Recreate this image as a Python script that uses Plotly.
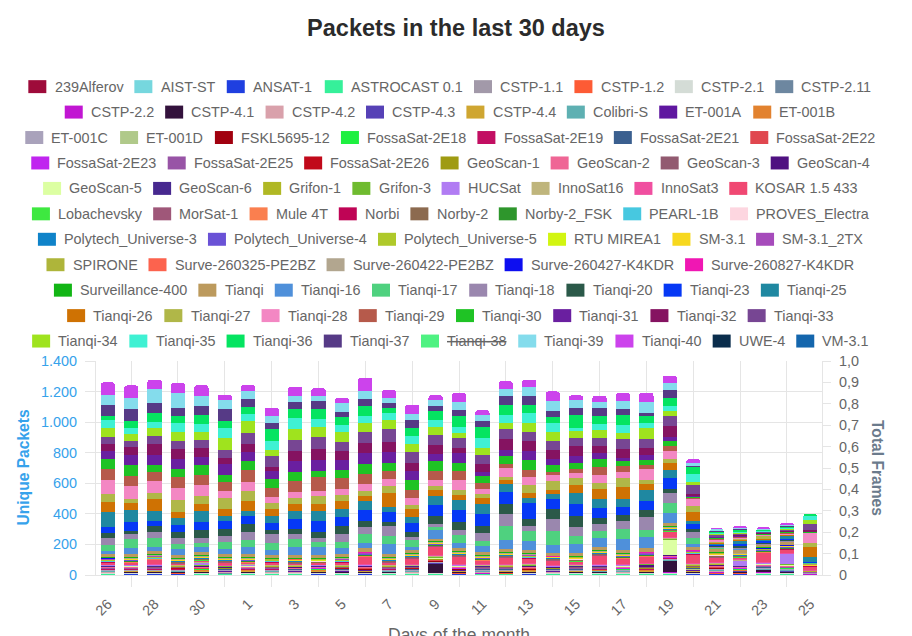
import plotly.graph_objects as go

# ─────────────────────────────────────────────
# Data

days = ["26", "27", "28", "29", "30", "31", "1", "2", "3", "4", "5", "6", "7", "8", "9",
        "10", "11", "12", "13", "14", "15", "16", "17", "18", "19", "20", "21", "22",
        "23", "24", "25"]

satellites = [
    "239Alferov", "AIST-ST", "ANSAT-1", "ASTROCAST 0.1", "CSTP-1.1", "CSTP-1.2", "CSTP-2.1",
    "CSTP-2.11", "CSTP-2.2", "CSTP-4.1", "CSTP-4.2", "CSTP-4.3", "CSTP-4.4", "Colibri-S",
    "ET-001A", "ET-001B", "ET-001C", "ET-001D", "FSKL5695-12", "FossaSat-2E18", "FossaSat-2E19",
    "FossaSat-2E21", "FossaSat-2E22", "FossaSat-2E23", "FossaSat-2E25", "FossaSat-2E26",
    "GeoScan-1", "GeoScan-2", "GeoScan-3", "GeoScan-4", "GeoScan-5", "GeoScan-6", "Grifon-1",
    "Grifon-3", "HUCSat", "InnoSat16", "InnoSat3", "KOSAR 1.5 433", "Lobachevsky", "MorSat-1",
    "Mule 4T", "Norbi", "Norby-2", "Norby-2_FSK", "PEARL-1B", "PROVES_Electra",
    "Polytech_Universe-3", "Polytech_Universe-4", "Polytech_Universe-5", "RTU MIREA1", "SM-3.1",
    "SM-3.1_2TX", "SPIRONE", "Surve-260325-PE2BZ", "Surve-260422-PE2BZ", "Surve-260427-K4KDR",
    "Surve-260827-K4KDR", "Surveillance-400", "Tianqi", "Tianqi-16", "Tianqi-17", "Tianqi-18",
    "Tianqi-20", "Tianqi-23", "Tianqi-25", "Tianqi-26", "Tianqi-27", "Tianqi-28", "Tianqi-29",
    "Tianqi-30", "Tianqi-31", "Tianqi-32", "Tianqi-33", "Tianqi-34", "Tianqi-35", "Tianqi-36",
    "Tianqi-37", "Tianqi-38", "Tianqi-39", "Tianqi-40", "UWE-4", "VM-3.1",
]

colors = [
    "#9e0b3a", "#76d7de", "#1f3fe0", "#36f09a", "#a299a9", "#fd5b35", "#d4dcd6",
    "#6d87a0", "#c116d2", "#33123c", "#d9a1ab", "#5641b6", "#cfa631", "#5eb0b2",
    "#5f17a0", "#e2822f", "#a9a2bb", "#b0c98a", "#a1000f", "#1ef040", "#c20e62",
    "#3a5f8f", "#e0474f", "#c025ef", "#9854a6", "#c1091a",
    "#9f9b12", "#ef6695", "#925a70", "#4f1181", "#dcffa2", "#47288f", "#b0b824",
    "#6fbb2f", "#b17cf3", "#bfb57c", "#f04fa0", "#f04872", "#3ee840", "#9f5779",
    "#fa7f4f", "#bf0455", "#8c6a4f", "#2e962c", "#47c8e0", "#fdd6e0",
    "#0f83c9", "#6a52d6", "#afc92a", "#d2f511", "#f7d81e",
    "#a64bbb", "#aeb53a", "#fc634e", "#b2a68f", "#0d0ef0",
    "#f017b3", "#12b515", "#bc9a5d", "#4f90da", "#4fd17f", "#9a87ae",
    "#2b5949", "#0638f5", "#1f88a1", "#cf7203", "#b0b748", "#f387c3", "#b65a4b",
    "#1fc325", "#6a1fa0", "#851361", "#774693", "#9fe31e", "#3ff1d3", "#05e461",
    "#563a86", "#4ff282", "#84dcec", "#cc43ec", "#0a2d4c", "#1466ad",
]

hidden = ["Tianqi-38"]

# unique packets per satellite and day
alferov = [3, 2, 3, 2, 2, 3, 1, 2, 3, 2, 2, 3, 2, 1, 2, 3, 2, 2, 3, 2, 2, 1, 3, 2, 2, 3, 2, 3, 2, 2, 1]
aist_st = [2, 3, 2, 2, 1, 2, 3, 2, 2, 3, 1, 2, 2, 3, 2, 1, 2, 3, 2, 2, 3, 2, 1, 2, 3, 2, 3, 2, 2, 3, 1]
ansat_1 = [1, 2, 2, 3, 2, 1, 2, 2, 1, 2, 3, 2, 1, 2, 2, 3, 2, 1, 2, 2, 1, 3, 2, 2, 1, 2, 2, 3, 2, 1, 1]
astrocast = [2, 1, 2, 1, 3, 2, 2, 1, 2, 2, 1, 2, 3, 2, 1, 2, 2, 2, 1, 3, 2, 2, 1, 2, 2, 1, 2, 2, 3, 2, 0]
cstp_1_1 = [3, 3, 2, 4, 3, 2, 3, 3, 2, 3, 4, 2, 3, 2, 3, 3, 2, 4, 3, 2, 3, 2, 3, 3, 2, 3, 4, 3, 2, 3, 1]
cstp_1_2 = [1, 2, 1, 2, 2, 1, 2, 1, 2, 1, 2, 2, 1, 2, 1, 2, 1, 2, 2, 1, 2, 1, 2, 1, 2, 2, 1, 2, 1, 2, 1]
cstp_2_1 = [2, 3, 2, 2, 3, 2, 2, 3, 2, 2, 2, 3, 2, 2, 3, 2, 2, 2, 3, 2, 2, 3, 2, 2, 2, 3, 2, 2, 3, 2, 1]
cstp_2_11 = [1, 0, 1, 1, 0, 1, 1, 0, 1, 1, 1, 0, 1, 1, 0, 1, 0, 1, 1, 0, 1, 1, 0, 1, 1, 1, 1, 0, 1, 1, 0]
cstp_2_2 = [2, 2, 3, 1, 2, 2, 3, 2, 1, 2, 2, 3, 2, 2, 1, 2, 3, 2, 2, 1, 2, 2, 3, 2, 2, 2, 3, 2, 2, 3, 1]
cstp_4_1 = [2, 3, 2, 2, 3, 2, 2, 3, 2, 3, 2, 2, 3, 2, 60, 3, 2, 2, 3, 2, 2, 3, 2, 5, 75, 3, 4, 3, 15, 4, 1]
cstp_4_2 = [3, 2, 2, 3, 2, 3, 2, 2, 3, 2, 2, 3, 2, 3, 2, 2, 3, 2, 2, 3, 2, 3, 2, 2, 3, 2, 3, 3, 2, 3, 1]
cstp_4_3 = [1, 2, 2, 1, 2, 1, 2, 2, 1, 2, 1, 2, 2, 1, 2, 2, 1, 2, 1, 2, 2, 1, 2, 2, 1, 2, 2, 2, 1, 2, 1]
cstp_4_4 = [3, 2, 3, 2, 3, 2, 3, 3, 2, 3, 2, 3, 2, 3, 2, 3, 3, 2, 3, 2, 3, 2, 3, 3, 2, 3, 3, 2, 3, 3, 1]
colibri_s = [2, 1, 2, 2, 1, 2, 2, 1, 2, 2, 1, 2, 2, 2, 1, 2, 2, 1, 2, 2, 1, 2, 2, 1, 2, 2, 2, 1, 2, 2, 1]
et_001a = [2, 2, 1, 2, 3, 2, 2, 1, 2, 2, 3, 2, 1, 2, 2, 3, 2, 2, 1, 2, 2, 3, 2, 2, 2, 2, 3, 2, 2, 2, 1]
et_001b = [1, 2, 2, 1, 2, 2, 1, 2, 2, 1, 2, 1, 2, 2, 1, 2, 2, 1, 2, 2, 1, 2, 2, 1, 2, 2, 2, 2, 1, 2, 0]
et_001c = [3, 3, 4, 3, 2, 3, 3, 4, 3, 3, 2, 3, 4, 3, 3, 2, 3, 3, 4, 3, 3, 2, 3, 3, 3, 3, 4, 3, 3, 4, 1]
et_001d = [1, 2, 1, 1, 2, 1, 2, 1, 1, 2, 1, 1, 2, 1, 2, 1, 1, 2, 1, 1, 2, 1, 2, 1, 1, 2, 2, 1, 2, 2, 1]
fskl5695 = [2, 1, 2, 2, 1, 2, 1, 2, 2, 1, 2, 2, 1, 2, 2, 1, 2, 1, 2, 2, 1, 2, 2, 1, 2, 2, 2, 1, 2, 2, 1]
fossa_2e18 = [1, 1, 0, 1, 1, 1, 0, 1, 1, 1, 0, 1, 1, 0, 1, 1, 1, 0, 1, 1, 1, 0, 1, 1, 1, 1, 1, 1, 0, 1, 0]
fossa_2e19 = [2, 2, 1, 2, 2, 2, 1, 2, 2, 1, 2, 2, 2, 1, 2, 2, 1, 2, 2, 2, 1, 2, 2, 1, 2, 2, 2, 2, 1, 2, 1]
fossa_2e21 = [2, 1, 2, 2, 2, 1, 2, 2, 1, 2, 2, 2, 1, 2, 2, 1, 2, 2, 2, 1, 2, 2, 1, 2, 2, 2, 2, 1, 2, 2, 1]
fossa_2e22 = [2, 2, 2, 1, 2, 2, 2, 1, 2, 2, 2, 1, 2, 2, 2, 1, 2, 2, 2, 1, 2, 2, 2, 1, 2, 2, 1, 2, 2, 2, 1]
fossa_2e23 = [1, 1, 1, 0, 1, 1, 1, 1, 0, 1, 1, 1, 1, 0, 1, 1, 1, 1, 0, 1, 1, 1, 1, 0, 1, 1, 1, 1, 1, 0, 0]
fossa_2e25 = [2, 1, 2, 2, 1, 2, 2, 2, 1, 2, 2, 1, 2, 2, 2, 1, 2, 2, 1, 2, 2, 2, 1, 2, 2, 1, 2, 2, 2, 1, 1]
fossa_2e26 = [1, 1, 0, 1, 1, 0, 1, 1, 1, 0, 1, 1, 0, 1, 1, 1, 0, 1, 1, 0, 1, 1, 1, 0, 1, 1, 1, 0, 1, 1, 0]
geoscan_1 = [2, 2, 2, 1, 2, 2, 2, 2, 1, 2, 2, 2, 1, 2, 2, 2, 2, 1, 2, 2, 2, 1, 2, 2, 2, 2, 1, 2, 2, 2, 1]
geoscan_2 = [3, 4, 3, 3, 4, 3, 3, 3, 4, 3, 3, 4, 3, 3, 3, 4, 3, 3, 4, 3, 3, 3, 4, 3, 3, 4, 3, 3, 4, 3, 1]
geoscan_3 = [2, 3, 2, 3, 2, 2, 3, 2, 3, 2, 2, 3, 2, 3, 2, 2, 3, 2, 3, 2, 2, 3, 2, 2, 3, 2, 3, 2, 2, 3, 1]
geoscan_4 = [2, 2, 1, 2, 2, 2, 1, 2, 2, 2, 1, 2, 2, 2, 1, 2, 2, 2, 1, 2, 2, 2, 1, 15, 2, 2, 2, 2, 3, 2, 1]
geoscan_5 = [1, 1, 2, 1, 1, 1, 2, 1, 1, 1, 2, 1, 1, 1, 2, 1, 1, 1, 2, 1, 1, 1, 2, 1, 100, 1, 2, 1, 1, 2, 1]
geoscan_6 = [2, 2, 2, 1, 2, 2, 2, 1, 2, 2, 2, 1, 2, 2, 2, 1, 2, 2, 2, 1, 2, 2, 2, 1, 2, 2, 2, 1, 2, 2, 1]
grifon_1 = [2, 1, 2, 2, 2, 1, 2, 2, 2, 1, 2, 2, 2, 1, 2, 2, 2, 1, 2, 2, 2, 1, 2, 2, 2, 1, 2, 2, 2, 1, 1]
grifon_3 = [1, 1, 2, 1, 1, 1, 2, 1, 1, 1, 2, 1, 1, 1, 2, 1, 1, 1, 2, 1, 1, 1, 2, 1, 1, 1, 2, 1, 1, 1, 0]
hucsat = [3, 3, 4, 3, 20, 3, 4, 3, 3, 4, 3, 3, 4, 3, 3, 4, 3, 3, 4, 3, 3, 4, 3, 3, 4, 3, 4, 35, 3, 70, 1]
innosat16 = [3, 2, 3, 3, 2, 3, 3, 2, 3, 3, 2, 3, 3, 2, 3, 3, 2, 3, 3, 2, 3, 3, 2, 3, 3, 2, 3, 3, 2, 3, 1]
innosat3 = [2, 3, 5, 2, 2, 3, 2, 3, 2, 2, 3, 4, 2, 3, 3, 2, 2, 4, 2, 3, 2, 4, 3, 2, 3, 4, 3, 2, 3, 2, 1]
kosar = [8, 10, 25, 8, 8, 15, 8, 10, 8, 8, 10, 45, 12, 40, 60, 50, 25, 45, 30, 30, 20, 55, 35, 40, 40, 55, 30, 15, 60, 20, 25]
lobachevsky = [2, 2, 1, 2, 2, 2, 1, 2, 2, 2, 1, 2, 2, 2, 1, 2, 2, 2, 1, 2, 2, 2, 1, 2, 2, 2, 2, 1, 2, 2, 1]
morsat_1 = [2, 2, 2, 2, 1, 2, 2, 2, 2, 1, 2, 2, 2, 2, 1, 2, 2, 2, 2, 1, 2, 2, 2, 2, 1, 2, 2, 2, 2, 1, 1]
mule_4t = [1, 2, 2, 1, 2, 2, 1, 2, 2, 1, 2, 2, 1, 2, 2, 1, 2, 2, 1, 2, 2, 1, 2, 2, 1, 2, 2, 1, 2, 2, 1]
norbi = [2, 1, 2, 2, 1, 2, 2, 1, 2, 2, 1, 2, 2, 1, 2, 2, 1, 2, 2, 1, 2, 2, 1, 2, 2, 1, 2, 2, 1, 2, 1]
norby_2 = [3, 3, 2, 3, 3, 2, 3, 3, 2, 3, 3, 2, 3, 3, 2, 3, 3, 2, 3, 3, 2, 3, 3, 2, 3, 3, 3, 2, 3, 3, 1]
norby_2_fsk = [2, 2, 2, 1, 2, 2, 2, 1, 2, 2, 2, 1, 2, 2, 2, 1, 2, 2, 2, 1, 2, 2, 2, 1, 2, 2, 2, 1, 2, 2, 1]
pearl_1b = [2, 1, 2, 2, 2, 1, 2, 2, 2, 1, 2, 2, 2, 1, 2, 2, 2, 1, 2, 2, 2, 1, 2, 2, 2, 1, 2, 2, 2, 1, 1]
proves = [1, 1, 1, 2, 1, 1, 1, 2, 1, 1, 1, 2, 1, 1, 1, 2, 1, 1, 1, 2, 1, 1, 1, 2, 1, 1, 2, 1, 1, 2, 0]
polytech_3 = [2, 2, 1, 2, 2, 2, 1, 2, 2, 2, 1, 2, 2, 2, 1, 2, 2, 2, 1, 2, 2, 2, 1, 2, 2, 2, 1, 2, 2, 2, 1]
polytech_4 = [2, 2, 2, 1, 2, 2, 2, 1, 2, 2, 2, 1, 2, 2, 2, 1, 2, 2, 2, 1, 2, 2, 2, 1, 2, 2, 2, 1, 2, 2, 1]
polytech_5 = [1, 2, 2, 2, 1, 2, 2, 2, 1, 2, 2, 2, 1, 2, 2, 2, 1, 2, 2, 2, 1, 2, 2, 2, 1, 2, 2, 2, 1, 2, 1]
rtu_mirea1 = [1, 1, 1, 0, 1, 1, 1, 0, 1, 1, 1, 0, 1, 1, 1, 0, 1, 1, 1, 0, 1, 1, 1, 0, 1, 1, 1, 1, 0, 1, 0]
sm_3_1 = [3, 3, 4, 3, 3, 3, 4, 3, 3, 3, 4, 3, 3, 3, 4, 3, 3, 3, 4, 3, 3, 3, 4, 3, 3, 3, 4, 3, 3, 3, 1]
sm_3_1_2tx = [2, 2, 2, 1, 2, 2, 2, 1, 2, 2, 2, 1, 2, 2, 2, 1, 2, 2, 2, 1, 2, 2, 2, 1, 2, 2, 2, 1, 2, 2, 1]
spirone = [2, 1, 2, 2, 2, 1, 2, 2, 2, 1, 2, 2, 2, 1, 2, 2, 2, 1, 2, 2, 2, 1, 2, 2, 2, 1, 2, 2, 2, 1, 1]
surve_260325 = [1, 1, 1, 1, 0, 1, 1, 1, 1, 0, 1, 1, 1, 1, 0, 1, 1, 1, 1, 0, 1, 1, 1, 1, 0, 1, 1, 1, 1, 0, 0]
surve_260422 = [3, 3, 3, 2, 3, 3, 3, 2, 3, 3, 3, 2, 3, 3, 3, 2, 3, 3, 3, 2, 3, 3, 3, 2, 3, 3, 3, 2, 3, 3, 1]
surve_260427 = [1, 1, 0, 1, 1, 1, 0, 1, 1, 1, 0, 1, 1, 1, 0, 1, 1, 1, 0, 1, 1, 1, 0, 1, 1, 1, 1, 0, 1, 1, 0]
surve_260827 = [1, 0, 1, 1, 1, 0, 1, 1, 1, 0, 1, 1, 1, 0, 1, 1, 1, 0, 1, 1, 1, 0, 1, 1, 1, 1, 0, 1, 1, 1, 0]
surveillance = [2, 2, 2, 2, 1, 2, 2, 2, 2, 1, 2, 2, 2, 2, 1, 2, 2, 2, 2, 1, 2, 2, 2, 2, 1, 2, 2, 2, 2, 1, 1]
tianqi = [20, 22, 19, 21, 20, 18, 21, 20, 22, 19, 20, 21, 19, 20, 18, 21, 20, 19, 22, 20, 21, 19, 20, 21, 20, 18, 19, 20, 18, 19, 3]
tianqi_16 = [24, 38, 32, 37, 30, 32, 43, 34, 48, 55, 39, 33, 68, 23, 54, 33, 43, 59, 57, 52, 55, 58, 72, 76, 69, 17, 0, 4, 0, 0, 3]
tianqi_17 = [36, 58, 54, 37, 28, 48, 50, 43, 52, 33, 39, 59, 52, 43, 22, 55, 28, 96, 65, 87, 55, 50, 68, 45, 65, 43, 7, 5, 4, 4, 3]
tianqi_18 = [46, 32, 43, 37, 33, 43, 48, 61, 33, 28, 54, 48, 61, 22, 22, 33, 54, 78, 33, 80, 54, 43, 50, 83, 65, 43, 8, 6, 4, 4, 4]
tianqi_20 = [31, 26, 37, 43, 54, 43, 55, 26, 37, 37, 52, 39, 26, 28, 50, 48, 48, 65, 50, 65, 72, 43, 37, 48, 22, 11, 6, 8, 6, 5, 0]
tianqi_23 = [45, 58, 35, 43, 54, 50, 54, 43, 65, 72, 61, 72, 65, 60, 75, 78, 76, 80, 100, 65, 80, 65, 57, 61, 76, 33, 7, 10, 12, 6, 4]
tianqi_25 = [92, 75, 64, 43, 70, 33, 33, 48, 50, 63, 50, 59, 39, 43, 59, 70, 65, 48, 35, 37, 72, 59, 48, 70, 54, 22, 9, 25, 8, 20, 30]
tianqi_26 = [69, 48, 76, 43, 43, 48, 61, 43, 48, 46, 52, 33, 87, 48, 33, 33, 37, 28, 33, 22, 52, 61, 83, 39, 43, 61, 6, 5, 5, 6, 65]
tianqi_27 = [54, 28, 43, 76, 57, 72, 70, 43, 37, 52, 39, 33, 48, 28, 28, 33, 28, 22, 54, 61, 50, 43, 59, 26, 26, 37, 8, 7, 20, 5, 26]
tianqi_28 = [90, 85, 74, 83, 70, 48, 59, 39, 39, 35, 43, 48, 43, 43, 43, 65, 33, 54, 54, 39, 28, 48, 37, 72, 50, 48, 10, 8, 6, 6, 68]
tianqi_29 = [73, 60, 65, 70, 65, 59, 73, 54, 70, 91, 70, 65, 57, 54, 54, 54, 37, 28, 43, 22, 26, 57, 39, 28, 33, 7, 5, 4, 3, 4, 4]
tianqi_30 = [61, 72, 43, 50, 65, 46, 59, 59, 61, 39, 54, 65, 48, 65, 65, 54, 50, 52, 65, 43, 43, 48, 33, 30, 33, 7, 7, 6, 4, 4, 3]
tianqi_31 = [55, 65, 65, 70, 50, 70, 61, 54, 70, 70, 65, 72, 76, 61, 48, 65, 28, 43, 59, 43, 43, 39, 22, 35, 28, 4, 6, 5, 4, 5, 4]
tianqi_32 = [43, 58, 72, 65, 59, 39, 54, 28, 65, 76, 61, 61, 65, 52, 61, 33, 48, 72, 65, 59, 65, 48, 54, 43, 70, 11, 5, 4, 3, 4, 6]
tianqi_33 = [50, 37, 50, 50, 54, 52, 72, 70, 75, 76, 59, 75, 83, 72, 65, 65, 61, 59, 57, 54, 54, 54, 70, 59, 65, 59, 8, 6, 5, 6, 38]
tianqi_34 = [55, 45, 54, 59, 54, 78, 80, 43, 70, 65, 65, 57, 59, 54, 54, 33, 48, 43, 64, 61, 43, 54, 35, 70, 33, 22, 6, 5, 4, 5, 28]
tianqi_35 = [52, 40, 37, 61, 50, 65, 43, 57, 72, 54, 43, 48, 43, 48, 43, 43, 60, 50, 65, 59, 22, 39, 52, 33, 37, 50, 8, 10, 6, 8, 30]
tianqi_36 = [32, 48, 65, 41, 59, 48, 43, 80, 59, 65, 54, 65, 33, 57, 60, 70, 76, 65, 52, 37, 83, 52, 65, 46, 50, 50, 10, 12, 4, 6, 12]
tianqi_37 = [66, 76, 65, 54, 59, 76, 54, 37, 50, 54, 33, 43, 33, 48, 33, 39, 39, 61, 54, 43, 48, 50, 43, 20, 50, 4, 6, 4, 3, 5, 0]
tianqi_38 = [42, 40, 45, 38, 44, 41, 39, 43, 40, 46, 37, 42, 44, 39, 41, 45, 36, 43, 40, 42, 38, 44, 41, 39, 47, 20, 6, 5, 7, 6, 9]
tianqi_39 = [71, 72, 91, 98, 65, 61, 54, 46, 37, 33, 54, 54, 33, 43, 37, 54, 37, 48, 61, 61, 50, 43, 50, 72, 48, 22, 8, 10, 5, 12, 0]
tianqi_40 = [80, 82, 60, 67, 72, 33, 39, 54, 61, 48, 37, 87, 54, 59, 33, 59, 33, 48, 48, 65, 33, 37, 54, 63, 48, 22, 5, 6, 4, 8, 0]
uwe_4 = [0, 0, 0, 0, 0, 0, 0, 0, 0, 0, 0, 0, 0, 0, 0, 0, 0, 0, 0, 0, 0, 0, 0, 0, 0, 0, 0, 0, 0, 0, 0]
vm_3_1 = [0, 0, 0, 0, 0, 0, 0, 0, 0, 0, 0, 0, 0, 0, 0, 0, 0, 0, 0, 0, 0, 0, 0, 0, 0, 0, 0, 0, 0, 0, 0]

packets = [
    alferov, aist_st, ansat_1, astrocast, cstp_1_1, cstp_1_2, cstp_2_1, cstp_2_11, cstp_2_2,
    cstp_4_1, cstp_4_2, cstp_4_3, cstp_4_4, colibri_s, et_001a, et_001b, et_001c, et_001d,
    fskl5695, fossa_2e18, fossa_2e19, fossa_2e21, fossa_2e22, fossa_2e23, fossa_2e25, fossa_2e26,
    geoscan_1, geoscan_2, geoscan_3, geoscan_4, geoscan_5, geoscan_6, grifon_1, grifon_3, hucsat,
    innosat16, innosat3, kosar, lobachevsky, morsat_1, mule_4t, norbi, norby_2, norby_2_fsk,
    pearl_1b, proves, polytech_3, polytech_4, polytech_5, rtu_mirea1, sm_3_1, sm_3_1_2tx, spirone,
    surve_260325, surve_260422, surve_260427, surve_260827, surveillance, tianqi, tianqi_16,
    tianqi_17, tianqi_18, tianqi_20, tianqi_23, tianqi_25, tianqi_26, tianqi_27, tianqi_28,
    tianqi_29, tianqi_30, tianqi_31, tianqi_32, tianqi_33, tianqi_34, tianqi_35, tianqi_36,
    tianqi_37, tianqi_38, tianqi_39, tianqi_40, uwe_4, vm_3_1,
]

packet_ticks = [0, 200, 400, 600, 800, 1000, 1200, 1400]
packet_labels = ["0", "200", "400", "600", "800", "1.000", "1.200", "1.400"]
frame_ticks = [0, 0.1, 0.2, 0.3, 0.4, 0.5, 0.6, 0.7, 0.8, 0.9, 1.0]
frame_labels = ["0", "0,1", "0,2", "0,3", "0,4", "0,5", "0,6", "0,7", "0,8", "0,9", "1,0"]

assert len(satellites) == len(colors) == len(packets)
assert all(len(v) == len(days) for v in packets)

# ─────────────────────────────────────────────
# Layout constants (pixels)

W, H = 912, 636
PX_L, PX_R, PX_T, PX_B = 96, 822, 361, 575.5
FONT = "Liberation Sans, Arial, Helvetica, sans-serif"
GRID = "#e5e5e5"
BLUE = "#36a2eb"
GREY = "#666666"


def xp(px):
    return (px - PX_L) / (PX_R - PX_L)


def yp(py):
    return (PX_B - py) / (PX_B - PX_T)


# Arial advance widths (1/1000 em), used to lay the legend out like Chart.js
GLYPHS = {}
for w, chars in [(278, "I .ft"), (222, "ijl"), (333, "-r"), (500, "Jcksvxyz"),
                 (556, "L0123456789_abdeghnopqu"), (611, "FTZ"), (667, "ABEKPSVXY"),
                 (722, "CDHNRUw"), (778, "GOQ"), (833, "Mm"), (944, "W")]:
    for ch in chars:
        GLYPHS[ch] = w


def text_width(s, size):
    return sum(GLYPHS.get(ch, 556) for ch in s) * size / 1000


# ─────────────────────────────────────────────
# Bars

fig = go.Figure()
xs = list(range(len(days)))
for name, color, vals in zip(satellites, colors, packets):
    fig.add_trace(go.Bar(
        x=xs, y=vals, name=name, width=0.61,
        marker=dict(color=color, line=dict(width=0)),
        visible="legendonly" if name in hidden else True,
        showlegend=False,
        hovertemplate=name + ": %{y}<extra></extra>",
    ))

# empty trace so the right hand axis is drawn
fig.add_trace(go.Scatter(x=[None], y=[None], yaxis="y2", showlegend=False, hoverinfo="skip"))

# ─────────────────────────────────────────────
# Legend (centred rows, Chart.js style)

LEG_FONT = 14.4
BOX_W, BOX_H = 18, 13
PAD = 12
MAX_W = 880
ROW0, ROW_STEP = 86, 25.5

rows = []
line_w = 0
for i, name in enumerate(satellites):
    item_w = BOX_W + LEG_FONT / 2 + text_width(name, LEG_FONT)
    if i == 0 or line_w + item_w + 2 * PAD > MAX_W:
        rows.append([])
        line_w = 0
    rows[-1].append((i, item_w))
    line_w += item_w + PAD

shapes = []
annotations = []
for r, row in enumerate(rows):
    row_w = sum(w + PAD for _, w in row)
    x = (W - row_w) / 2
    cy = ROW0 + r * ROW_STEP
    for i, item_w in row:
        name = satellites[i]
        shapes.append(dict(
            type="rect", xref="paper", yref="paper",
            x0=xp(x), x1=xp(x + BOX_W), y0=yp(cy + BOX_H / 2), y1=yp(cy - BOX_H / 2),
            fillcolor=colors[i], line=dict(width=0), layer="above",
        ))
        label = "<s>" + name + "</s>" if name in hidden else name
        annotations.append(dict(
            xref="paper", yref="paper", x=xp(x + BOX_W + LEG_FONT / 2 - 1), y=yp(cy),
            xanchor="left", yanchor="middle", text=label, showarrow=False,
            font=dict(family=FONT, size=LEG_FONT, color=GREY),
        ))
        x += item_w + PAD

# axis titles
annotations.append(dict(
    xref="paper", yref="paper", x=xp(22.5), y=0.5, textangle=-90,
    text="<b>Unique Packets</b>", showarrow=False, xanchor="center", yanchor="middle",
    font=dict(family=FONT, size=15.6, color=BLUE),
))
annotations.append(dict(
    xref="paper", yref="paper", x=xp(878), y=0.5, textangle=90,
    text="<b>Total Frames</b>", showarrow=False, xanchor="center", yanchor="middle",
    font=dict(family=FONT, size=15.6, color="#6b7b8c"),
))
annotations.append(dict(
    xref="paper", yref="paper", x=xp(459), y=yp(624), text="Days of the month",
    showarrow=False, xanchor="center", yanchor="top",
    font=dict(family=FONT, size=17.5, color=GREY),
))

# ─────────────────────────────────────────────
# Figure layout

fig.update_layout(
    width=W, height=H,
    margin=dict(l=PX_L, r=W - PX_R, t=PX_T, b=H - PX_B, pad=0),
    paper_bgcolor="white", plot_bgcolor="white",
    barmode="stack",
    barcornerradius=3,
    font=dict(family=FONT, size=14.4, color=GREY),
    title=dict(
        text="<b>Packets in the last 30 days</b>",
        x=0.5, xref="container", xanchor="center",
        y=1 - 28 / H, yref="container", yanchor="middle",
        font=dict(family=FONT, size=23.5, color="#2b2b2b"),
    ),
    showlegend=False,
    xaxis=dict(
        range=[-0.5, len(days) - 0.5], automargin=False,
        tickmode="array", tickvals=xs[::2], ticktext=days[::2],
        tickangle=-45, ticks="", ticklabelstandoff=14,
        tickfont=dict(family=FONT, size=14.4, color=GREY),
        showgrid=False, zeroline=False, showline=True, linecolor=GRID, linewidth=1,
        minor=dict(tickmode="array", tickvals=xs[1::2], ticks="outside", ticklen=11,
                   tickcolor=GRID, showgrid=True, gridcolor=GRID, gridwidth=1),
    ),
    yaxis=dict(
        range=[0, 1400], automargin=False,
        tickmode="array", tickvals=packet_ticks, ticktext=packet_labels,
        ticks="outside", ticklen=10, tickcolor=GRID, ticklabelstandoff=5,
        tickfont=dict(family=FONT, size=14.4, color=BLUE),
        showgrid=True, gridcolor=GRID, gridwidth=1, zeroline=False,
        showline=True, linecolor=GRID, linewidth=1,
    ),
    yaxis2=dict(
        overlaying="y", side="right", range=[0, 1], automargin=False,
        tickmode="array", tickvals=frame_ticks, ticktext=frame_labels,
        ticks="outside", ticklen=8, tickcolor=GRID, ticklabelstandoff=5,
        tickfont=dict(family=FONT, size=14.4, color=GREY),
        showgrid=False, zeroline=False, showline=True, linecolor=GRID, linewidth=1,
    ),
    shapes=shapes,
    annotations=annotations,
)

# the page's default 8px body margin would push the whole chart off its frame
fig.write_html("out.html", config={"displayModeBar": False},
               post_script="document.body.style.margin = '0';")
